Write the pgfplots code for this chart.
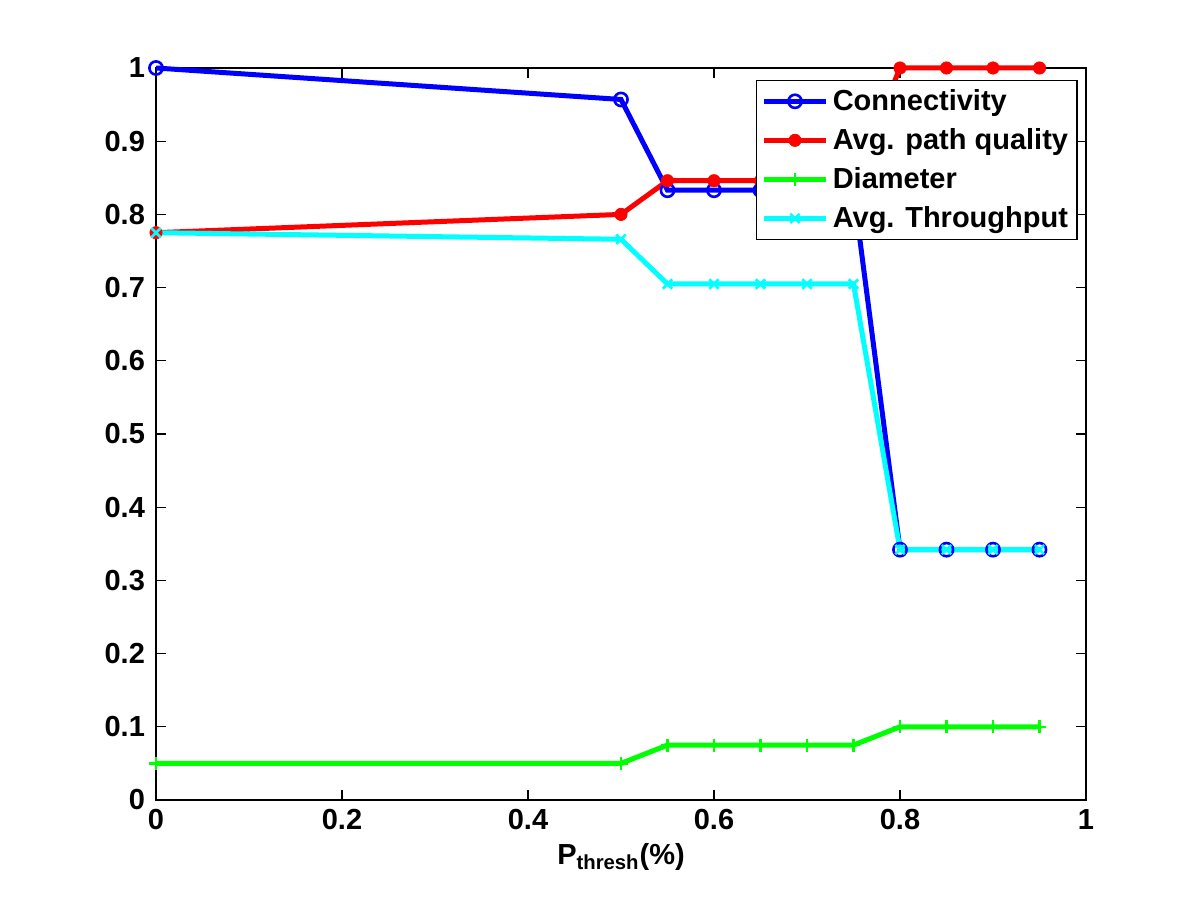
\documentclass[border=0pt]{standalone}
\usepackage{fontspec}
\setmainfont{Liberation Sans}
\usepackage{pgfplots}
\pgfplotsset{compat=1.18}
\definecolor{mblue}{rgb}{0,0,1}
\definecolor{mred}{rgb}{1,0,0}
\definecolor{mgreen}{rgb}{0,1,0}
\definecolor{mcyan}{rgb}{0,1,1}
\begin{document}
\begin{tikzpicture}
\useasboundingbox (-78pt,-50pt) rectangle (522pt,400pt);
\begin{axis}[
  scale only axis,
  width=465pt, height=366pt,
  xmin=0, xmax=1, ymin=0, ymax=1,
  clip=false,
  axis line style={black, line width=0.6pt},
  tick style={black, line width=0.6pt},
  tick align=inside,
  major tick length=5pt,
  xtick={0,0.2,0.4,0.6,0.8,1},
  xticklabels={0,0.2,0.4,0.6,0.8,1},
  ytick={0,0.1,0.2,0.3,0.4,0.5,0.6,0.7,0.8,0.9,1},
  yticklabels={0,0.1,0.2,0.3,0.4,0.5,0.6,0.7,0.8,0.9,1},
  tick label style={font=\fontsize{14.5}{17}\selectfont\bfseries},
  xticklabel style={yshift=-1pt},
  yticklabel style={xshift=-2pt},
  xlabel={\textbf{P\textsubscript{thresh}(\%)}},
  xlabel style={font=\fontsize{14.5}{17}\selectfont\bfseries, yshift=0pt},
  legend style={at={(0.991,0.984)}, anchor=north east, draw=black, line width=0.6pt,
    fill=white, font=\fontsize{14.5}{17}\selectfont\bfseries, inner sep=2.5pt,
    row sep=3.5pt},
  legend cell align=left,
  legend image code/.code={
    \draw[mark repeat=2, mark phase=2] plot coordinates {(0cm,0cm) (0.55cm,0cm) (1.1cm,0cm)};
  },
]
\addplot[mblue, line width=2.5pt, mark=o, mark size=3.3pt, mark options={line width=1.3pt}]
  coordinates {(0,1) (0.5,0.957) (0.55,0.833) (0.6,0.833) (0.65,0.833) (0.7,0.833) (0.75,0.833)
               (0.8,0.342) (0.85,0.342) (0.9,0.342) (0.95,0.342)};
\addlegendentry{Connectivity}
\addplot[mred, line width=2.5pt, mark=*, mark size=3.1pt, mark options={line width=0.3pt}]
  coordinates {(0,0.775) (0.5,0.800) (0.55,0.846) (0.6,0.846) (0.65,0.846) (0.7,0.846) (0.75,0.846)
               (0.8,1) (0.85,1) (0.9,1) (0.95,1)};
\addlegendentry{Avg. path quality}
\addplot[mgreen, line width=2.5pt, mark=+, mark size=3.3pt, mark options={line width=1.3pt}]
  coordinates {(0,0.05) (0.5,0.05) (0.55,0.075) (0.6,0.075) (0.65,0.075) (0.7,0.075) (0.75,0.075)
               (0.8,0.1) (0.85,0.1) (0.9,0.1) (0.95,0.1)};
\addlegendentry{Diameter}
\addplot[mcyan, line width=2.5pt, mark=x, mark size=3.3pt, mark options={line width=1.3pt}]
  coordinates {(0,0.775) (0.5,0.766) (0.55,0.705) (0.6,0.705) (0.65,0.705) (0.7,0.705) (0.75,0.705)
               (0.8,0.342) (0.85,0.342) (0.9,0.342) (0.95,0.342)};
\addlegendentry{Avg. Throughput}
\end{axis}
\end{tikzpicture}
\end{document}
